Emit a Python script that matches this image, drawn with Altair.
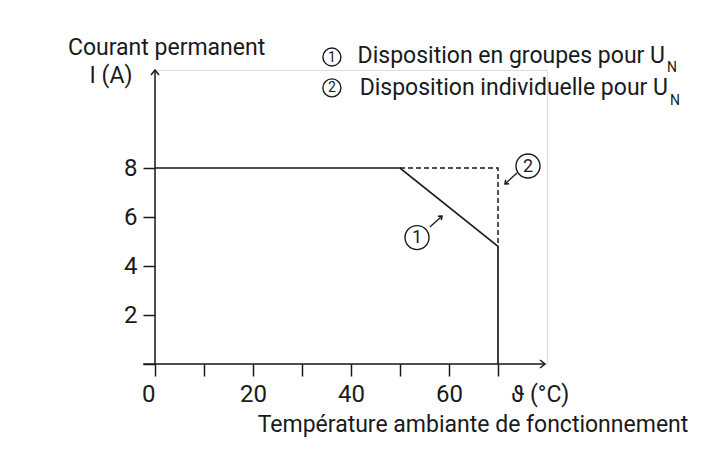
import altair as alt
import pandas as pd

# ---- data ----
temp_groupes = [0, 50, 70, 70]
courant_groupes = [8, 8, 4.8, 0]
temp_indiv = [50, 70, 70]
courant_indiv = [8, 8, 4.8]

x_ticks = [0, 10, 20, 30, 40, 50, 60, 70]
y_ticks = [0, 2, 4, 6, 8]

titre_y = ["Courant permanent", "I (A)"]
titre_x = ["ϑ (°C)", "Température ambiante de fonctionnement"]
legende = ["Disposition en groupes pour U", "Disposition individuelle pour U"]
indice = "N"
chiffres = ["1", "2"]

FONT = "Roboto, DejaVu Sans, sans-serif"
INK = "#1a1a1a"
FS = 23
FS_TICK = 24
FS_LEG = 23

xs = alt.Scale(domain=[0, 80], nice=False, zero=False)
ys = alt.Scale(domain=[0, 12], nice=False, zero=False)

xaxis = alt.Axis(values=x_ticks, labelExpr="datum.value % 20 == 0 ? datum.label : ''",
                 labelFlush=False,
                 labelAlign={"condition": {"test": "datum.value == 0", "value": "right"},
                             "value": "center"},
                 domain=False, grid=False, tickSize=12, tickWidth=1.5, tickColor=INK,
                 labelFont=FONT, labelFontSize=FS_TICK, labelColor=INK, labelPadding=6,
                 title=None)
yaxis = alt.Axis(values=y_ticks, labelExpr="datum.value == 0 ? '' : datum.label",
                 labelFlush=False,
                 domain=False, grid=False, tickSize=12, tickWidth=1.5, tickColor=INK,
                 labelFont=FONT, labelFontSize=FS_TICK, labelColor=INK, labelPadding=6,
                 title=None)


def X(f):
    return alt.X(f, type="quantitative", scale=xs, axis=xaxis)


def Y(f):
    return alt.Y(f, type="quantitative", scale=ys, axis=yaxis)


df1 = pd.DataFrame({"t": temp_groupes, "i": courant_groupes, "o": range(len(temp_groupes))})
df2 = pd.DataFrame({"t": temp_indiv, "i": courant_indiv, "o": range(len(temp_indiv))})

ligne1 = alt.Chart(df1).mark_line(color=INK, strokeWidth=1.7).encode(
    x=X("t"), y=Y("i"), order="o:Q")
ligne2 = alt.Chart(df2).mark_line(color=INK, strokeWidth=1.5, strokeDash=[5, 3]).encode(
    x=X("t"), y=Y("i"), order="o:Q")

one = alt.Data(values=[{"k": 0}])


def rule(x1, y1, x2, y2, w=1.5):
    return alt.Chart(one).mark_rule(color=INK, strokeWidth=w).encode(
        x=alt.datum(x1, scale=xs), y=alt.datum(y1, scale=ys),
        x2=alt.datum(x2), y2=alt.datum(y2))


CHEV = "M-1,-0.8L0,0L-1,0.8"


def head(x, y, angle, size):
    return alt.Chart(one).mark_point(shape=CHEV, size=size, filled=False, stroke=INK,
                                     strokeWidth=1.5, opacity=1, angle=angle,
                                     strokeJoin="miter").encode(
        x=alt.datum(x, scale=xs), y=alt.datum(y, scale=ys))


def txt(s, x, y, size=FS, align="center", baseline="middle"):
    return alt.Chart(alt.Data(values=[{"s": s}])).mark_text(
        font=FONT, fontSize=size, color=INK, align=align, baseline=baseline).encode(
        x=alt.datum(x, scale=xs), y=alt.datum(y, scale=ys), text="s:N")


def cercle(d, x, y, diam, fs):
    # Vega circle symbol: radius = sqrt(size) / 2
    c = alt.Chart(one).mark_point(shape="circle", size=diam ** 2,
                                  filled=False, stroke=INK, strokeWidth=1.4,
                                  opacity=1).encode(
        x=alt.datum(x, scale=xs), y=alt.datum(y, scale=ys))
    return [c, txt(d, x, y - 0.02, fs)]


layers = [
    ligne1, ligne2,
    rule(-2.4, 0, 79.6, 0),
    rule(0, 0, 0, 12),
    head(79.6, 0, 0, 100),
    head(0, 12, 270, 100),
    # annotation arrows
    rule(56.12, 5.59, 58.57, 6.04, 1.3),
    head(58.57, 6.04, 317.5, 42),
    rule(73.88, 7.80, 71.43, 7.35, 1.3),
    head(71.43, 7.35, 137.5, 42),
    *cercle(chiffres[0], 53.47, 5.16, 24, 18),
    *cercle(chiffres[1], 76.12, 8.08, 24, 18),
    # titles
    txt(titre_y[0], -17.76, 12.9, FS, "left"),
    txt(titre_y[1], -8.98, 11.76),
    txt(titre_x[0], 78.6, -1.27),
    txt(titre_x[1], 64.9, -2.49),
    # legend
    *cercle(chiffres[0], 36.1, 12.53, 18, 14),
    *cercle(chiffres[1], 36.1, 11.27, 18, 14),
    txt(legende[0], 104.08, 12.57, FS_LEG, "right"),
    txt(indice, 104.49, 12.08, 14, "left"),
    txt(legende[1], 104.69, 11.27, FS_LEG, "right"),
    txt(indice, 105.1, 10.73, 14, "left"),
]

chart = alt.layer(*layers).properties(
    width=392, height=294,
    padding={"left": 147, "top": 62, "right": 168, "bottom": 87},
    autosize=alt.AutoSizeParams(type="none"),
).configure_view(stroke=None).configure(background="white")

chart.save("out.html", embed_options={"renderer": "svg", "actions": False})
